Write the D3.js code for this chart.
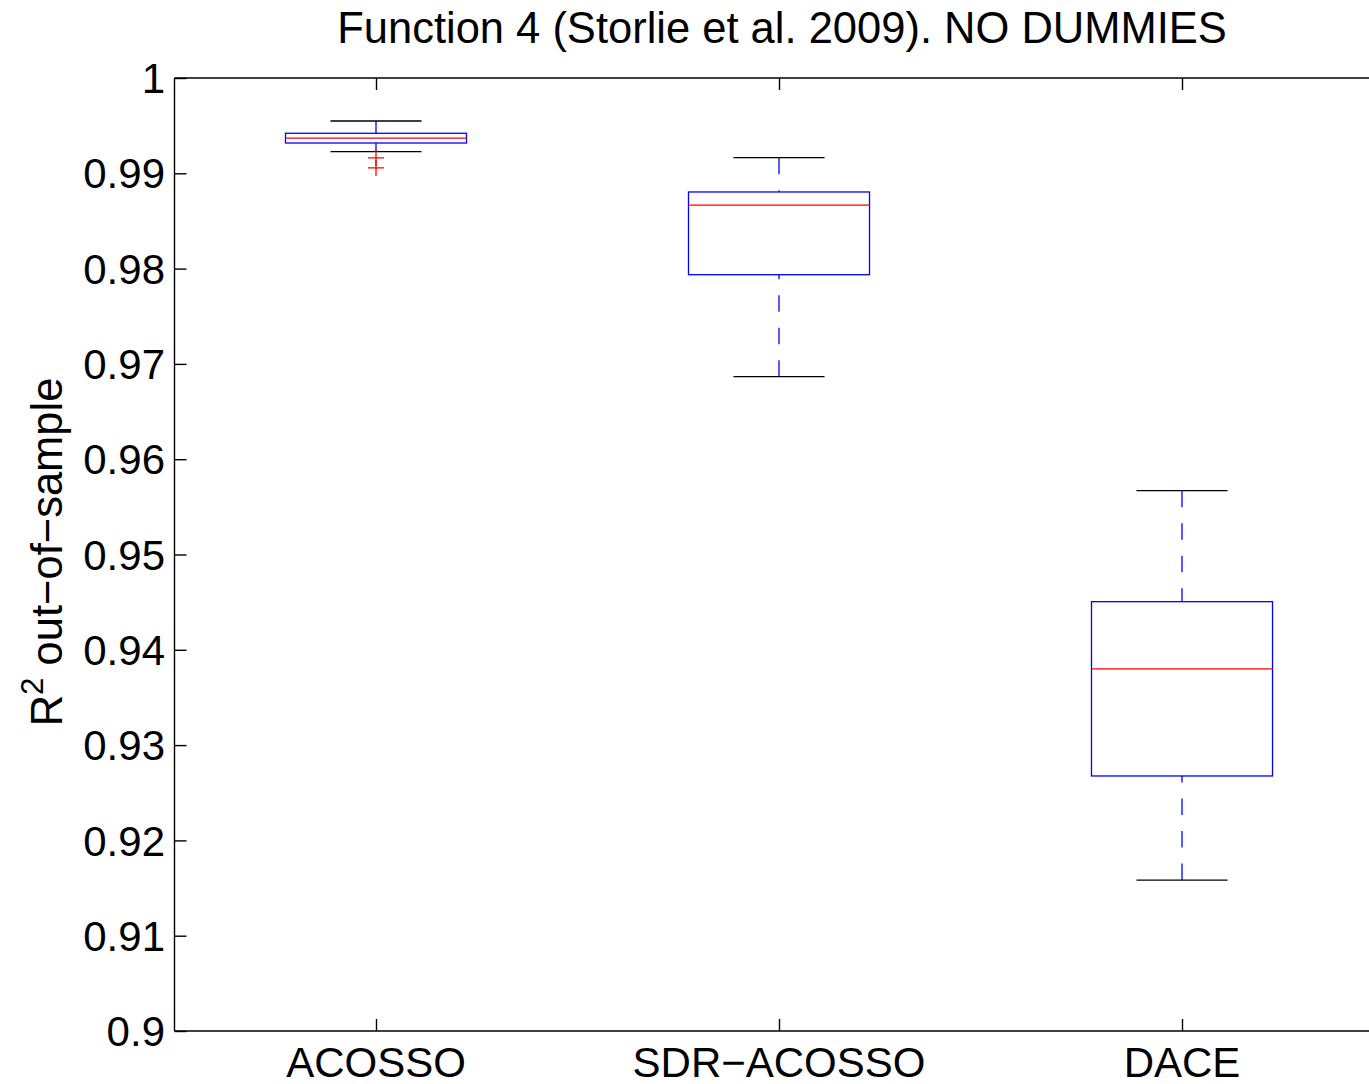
<!DOCTYPE html>
<html>
<head>
<meta charset="utf-8">
<script src="https://cdn.jsdelivr.net/npm/d3@7"></script>
<style>
html,body{margin:0;padding:0;background:#fff;overflow:hidden;}
svg{display:block;font-family:"Liberation Sans",Arial,Helvetica,sans-serif;}
</style>
</head>
<body>
<svg id="chart" width="1369" height="1084"></svg>
<script>
const categories = ["ACOSSO", "SDR\u2212ACOSSO", "DACE"];
const whiskerHigh = [0.99549, 0.99164, 0.95670];
const q3 = [0.99420, 0.98804, 0.94505];
const median = [0.99370, 0.98667, 0.93799];
const q1 = [0.99318, 0.97936, 0.92676];
const whiskerLow = [0.99227, 0.96866, 0.91584];
const outliers = [[0.99161, 0.99056], [], []];
const yTicks = [0.9, 0.91, 0.92, 0.93, 0.94, 0.95, 0.96, 0.97, 0.98, 0.99, 1];
const yTickLabels = ["0.9", "0.91", "0.92", "0.93", "0.94", "0.95", "0.96", "0.97", "0.98", "0.99", "1"];
const titleText = "Function 4 (Storlie et al. 2009). NO DUMMIES";

(function () {
const svg = d3.select("#chart");
const pLeft = 174.5, pTop = 78, pBottom = 1031;
const x = d3.scaleLinear().domain([0.5, 3.5]).range([pLeft, pLeft + 3 * 403]);
const y = d3.scaleLinear().domain([0.9, 1]).range([pBottom, pTop]);
const fs = 42, fsBig = 43.5;

const boxHalf = 0.2246, capHalf = 0.113;
const g = svg.append("g");
categories.forEach((c, i) => {
  const cx = x(i + 1);
  g.append("line").attr("x1", cx).attr("x2", cx).attr("y1", y(whiskerHigh[i])).attr("y2", y(q3[i]))
    .attr("stroke", "#0000ff").attr("stroke-width", 1.3).attr("stroke-dasharray", "16.5,16");
  g.append("line").attr("x1", cx).attr("x2", cx).attr("y1", y(whiskerLow[i])).attr("y2", y(q1[i]))
    .attr("stroke", "#0000ff").attr("stroke-width", 1.3).attr("stroke-dasharray", "16.5,16");
  [whiskerHigh[i], whiskerLow[i]].forEach(v => {
    g.append("line").attr("x1", x(i + 1 - capHalf)).attr("x2", x(i + 1 + capHalf))
      .attr("y1", y(v)).attr("y2", y(v)).attr("stroke", "#000").attr("stroke-width", 1.3);
  });
  g.append("rect").attr("x", x(i + 1 - boxHalf)).attr("y", y(q3[i]))
    .attr("width", x(i + 1 + boxHalf) - x(i + 1 - boxHalf)).attr("height", y(q1[i]) - y(q3[i]))
    .attr("fill", "none").attr("stroke", "#0000ff").attr("stroke-width", 1.3);
  g.append("line").attr("x1", x(i + 1 - boxHalf)).attr("x2", x(i + 1 + boxHalf))
    .attr("y1", y(median[i])).attr("y2", y(median[i])).attr("stroke", "#ff0000").attr("stroke-width", 1.3);
  outliers[i].forEach(v => {
    const py = y(v);
    g.append("path").attr("d", `M${cx - 8},${py}H${cx + 8}M${cx},${py - 8}V${py + 8}`)
      .attr("stroke", "#ff0000").attr("stroke-width", 1.3).attr("fill", "none");
  });
});

const axisW = 1.4;
svg.append("line").attr("x1", pLeft).attr("x2", 1369).attr("y1", pTop).attr("y2", pTop).attr("stroke", "#000").attr("stroke-width", axisW);
svg.append("line").attr("x1", pLeft).attr("x2", 1369).attr("y1", pBottom).attr("y2", pBottom).attr("stroke", "#000").attr("stroke-width", axisW);
svg.append("line").attr("x1", pLeft).attr("x2", pLeft).attr("y1", pTop).attr("y2", pBottom).attr("stroke", "#000").attr("stroke-width", axisW);

const ya = svg.append("g").attr("transform", `translate(${pLeft},0)`)
  .call(d3.axisRight(y).tickValues(yTicks).tickSize(12).tickFormat(""));
ya.select(".domain").remove();
ya.selectAll("line").attr("stroke", "#000").attr("stroke-width", axisW);
yTicks.forEach((t, i) => {
  svg.append("text").attr("x", 165).attr("y", y(t)).attr("dy", "0.36em")
    .attr("text-anchor", "end").attr("font-size", fs).attr("fill", "#000").text(yTickLabels[i]);
});

const xTickVals = categories.map((c, i) => i + 1);
const xb = svg.append("g").attr("transform", `translate(0,${pBottom})`)
  .call(d3.axisTop(x).tickValues(xTickVals).tickSize(12).tickFormat(""));
xb.select(".domain").remove();
xb.selectAll("line").attr("stroke", "#000").attr("stroke-width", axisW);
const xt = svg.append("g").attr("transform", `translate(0,${pTop})`)
  .call(d3.axisBottom(x).tickValues(xTickVals).tickSize(12).tickFormat(""));
xt.select(".domain").remove();
xt.selectAll("line").attr("stroke", "#000").attr("stroke-width", axisW);
categories.forEach((c, i) => {
  svg.append("text").attr("x", x(i + 1)).attr("y", 1077).attr("text-anchor", "middle")
    .attr("font-size", fs).attr("fill", "#000").text(c);
});

svg.append("text").attr("x", 782).attr("y", 43).attr("text-anchor", "middle")
  .attr("font-size", fsBig).attr("fill", "#000").text(titleText);

const yl = svg.append("text").attr("transform", `translate(62,552) rotate(-90)`)
  .attr("text-anchor", "middle").attr("font-size", fsBig).attr("fill", "#000");
yl.append("tspan").text("R");
yl.append("tspan").attr("font-size", fsBig * 0.72).attr("dy", -19).text("2");
yl.append("tspan").attr("dy", 19).text(" out\u2212of\u2212sample");
})();
</script>
</body>
</html>
